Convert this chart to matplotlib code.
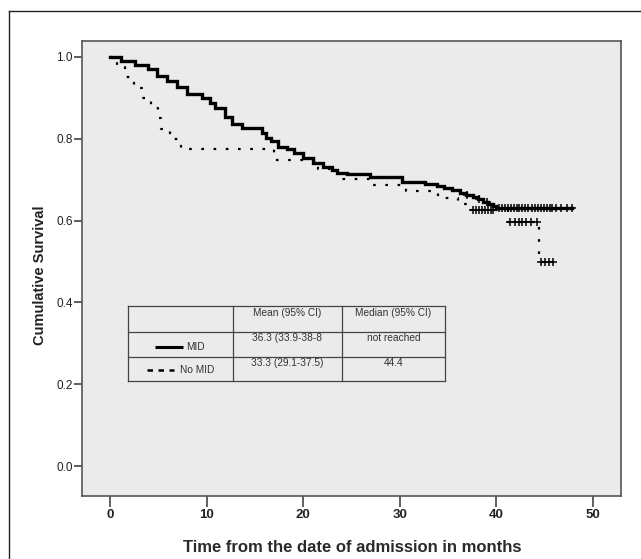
import numpy as np
import matplotlib
matplotlib.use("Agg")
import matplotlib.pyplot as plt
from matplotlib.lines import Line2D
from matplotlib import font_manager

plt.rcParams['font.family'] = ['Liberation Sans', 'DejaVu Sans']
_names = {f.name for f in font_manager.fontManager.ttflist}
narrow = 'Liberation Sans Narrow' if 'Liberation Sans Narrow' in _names else 'Liberation Sans'

# ---- data ----
mid_times = [0, 1.1, 2.6, 3.9, 4.9, 5.9, 6.9, 8.0, 9.5, 10.4, 10.9, 11.9, 12.6, 13.7,
             15.7, 16.2, 16.7, 17.4, 18.3, 19.0, 20.0, 21.0, 22.0, 23.0, 23.5, 24.5,
             26.9, 30.2, 32.6, 33.8, 34.6, 35.4, 36.2, 36.9, 37.6, 38.1, 38.6, 39.1,
             39.6, 40.0]
mid_surv = [1.0, 0.99, 0.98, 0.97, 0.953, 0.942, 0.926, 0.91, 0.90, 0.888, 0.875, 0.853,
            0.837, 0.826, 0.814, 0.802, 0.795, 0.78, 0.775, 0.765, 0.753, 0.74, 0.73,
            0.724, 0.716, 0.713, 0.706, 0.695, 0.69, 0.685, 0.68, 0.675, 0.668, 0.663,
            0.657, 0.652, 0.646, 0.641, 0.636, 0.630]
mid_end = 47.8
mid_censor = [37.0, 38.2, 39.0, 40.3, 40.6, 40.9, 41.2, 41.5, 41.8, 42.1, 42.3, 42.6,
              43.0, 43.3, 43.7, 44.0, 44.3, 44.6, 44.9, 45.2, 45.5, 45.8, 46.2, 46.7,
              47.3, 47.8]

nomid_times = [0, 0.7, 1.6, 2.5, 3.3, 4.2, 5.0, 5.3, 6.2, 7.4, 17.0, 21.5, 23.6, 27.0,
               30.6, 34.0, 36.0, 37.4, 41.2, 44.4]
nomid_surv = [1.0, 0.975, 0.95, 0.925, 0.90, 0.875, 0.85, 0.825, 0.80, 0.775, 0.748,
              0.725, 0.702, 0.687, 0.672, 0.655, 0.64, 0.626, 0.597, 0.50]
nomid_end = 46.0
nomid_censor = [37.6, 37.9, 38.2, 38.5, 38.8, 39.1, 39.4, 39.7, 41.4, 41.9, 42.3, 42.7,
                43.1, 43.6, 44.2, 44.6, 45.0, 45.4, 45.9]

x_ticks = [0, 10, 20, 30, 40, 50]
y_ticks = [0.0, 0.2, 0.4, 0.6, 0.8, 1.0]

table_header = ["", "Mean (95% CI)", "Median (95% CI)"]
table_rows = [["MID", "36.3 (33.9-38-8", "not reached"],
              ["No MID", "33.3 (29.1-37.5)", "44.4"]]


def step_value(times, surv, t):
    i = np.searchsorted(np.asarray(times), t, side='right') - 1
    return np.asarray(surv)[i]


W, H = 641, 559
fig = plt.figure(figsize=(W / 100, H / 100), dpi=100)
fig.patch.set_facecolor('white')

# outer frame (cropped at right/bottom)
fy = 1 - 11 / H
fx = 8.5 / W
fig.add_artist(Line2D([fx, fx], [0, fy], transform=fig.transFigure, color='#222222', lw=1.0))
fig.add_artist(Line2D([fx, 1], [fy, fy], transform=fig.transFigure, color='#222222', lw=1.0))

ax = fig.add_axes([82 / W, 1 - 496 / H, (621 - 82) / W, (496 - 41) / H])
ax.set_facecolor('#ebebeb')
ax.set_xlim(-2.9, 52.9)
ax.set_ylim(-0.073, 1.039)

# MID (solid)
mt = list(mid_times) + [mid_end]
ms = list(mid_surv) + [mid_surv[-1]]
ax.step(mt, ms, where='post', color='black', lw=2.4, solid_joinstyle='miter', zorder=3)
ax.plot(mid_censor, [step_value(mid_times, mid_surv, t) for t in mid_censor],
        linestyle='none', marker='+', ms=6, mew=1.1, color='black', zorder=4)

# No MID (dotted)
nt = list(nomid_times) + [nomid_end]
ns = list(nomid_surv) + [nomid_surv[-1]]
ax.step(nt, ns, where='post', color='black', lw=1.6, linestyle=(0, (1.2, 4.3)),
        dash_capstyle='butt', zorder=3)
ax.plot(nomid_censor, [step_value(nomid_times, nomid_surv, t) for t in nomid_censor],
        linestyle='none', marker='+', ms=6, mew=1.1, color='black', zorder=4)

# axes styling
for s in ax.spines.values():
    s.set_color('#555555')
    s.set_linewidth(1.2)
ax.set_xticks(x_ticks)
ax.set_xticklabels([str(v) for v in x_ticks], fontsize=9.5, fontweight='bold',
                   color='#222222', family=[narrow, 'DejaVu Sans'])
ax.set_yticks(y_ticks)
ax.set_yticklabels([f"{v:.1f}" for v in y_ticks], fontsize=8.5, color='#222222',
                   family=[narrow, 'DejaVu Sans'])
ax.tick_params(axis='x', direction='out', length=8, width=1.2, color='#444444', pad=1)
ax.tick_params(axis='y', direction='out', length=5.5, width=1.2, color='#444444', pad=1)

fig.text(40 / W, 1 - 275 / H, "Cumulative Survival", rotation=90, ha='center', va='center',
         fontsize=10.5, fontweight='bold', color='#222222')
fig.text(352 / W, 1 - 548 / H, "Time from the date of admission in months", ha='center',
         va='center', fontsize=12, fontweight='bold', color='#2a2a2a')

# summary table (data coordinates)
tx = [1.86, 12.7, 24.0, 34.7]
ty = [0.391, 0.328, 0.266, 0.208]
lc = '#444444'
for x in tx:
    ax.plot([x, x], [ty[0], ty[-1]], color=lc, lw=0.9, zorder=5)
for y in ty:
    ax.plot([tx[0], tx[-1]], [y, y], color=lc, lw=0.9, zorder=5)

fs = 7.3
tcol = '#333333'
ax.text((tx[1] + tx[2]) / 2, 0.374, table_header[1], ha='center', va='center', fontsize=fs, color=tcol)
ax.text((tx[2] + tx[3]) / 2, 0.374, table_header[2], ha='center', va='center', fontsize=fs, color=tcol)
row_text_y = [0.312, 0.251]
for r, yv in zip(table_rows, row_text_y):
    ax.text((tx[1] + tx[2]) / 2, yv, r[1], ha='center', va='center', fontsize=fs, color=tcol)
    ax.text((tx[2] + tx[3]) / 2, yv, r[2], ha='center', va='center', fontsize=fs, color=tcol)

# legend samples inside table
ax.plot([4.7, 7.6], [0.290, 0.290], color='black', lw=2.2, solid_capstyle='butt', zorder=6)
ax.text(7.9, 0.290, table_rows[0][0], ha='left', va='center', fontsize=fs, color=tcol)
ax.plot([3.8, 6.6], [0.234, 0.234], color='black', lw=1.8, linestyle=(0, (2.2, 2.2)),
        dash_capstyle='butt', zorder=6)
ax.text(7.2, 0.234, table_rows[1][0], ha='left', va='center', fontsize=fs, color=tcol)

fig.savefig('out.png', dpi=100, facecolor='white')
